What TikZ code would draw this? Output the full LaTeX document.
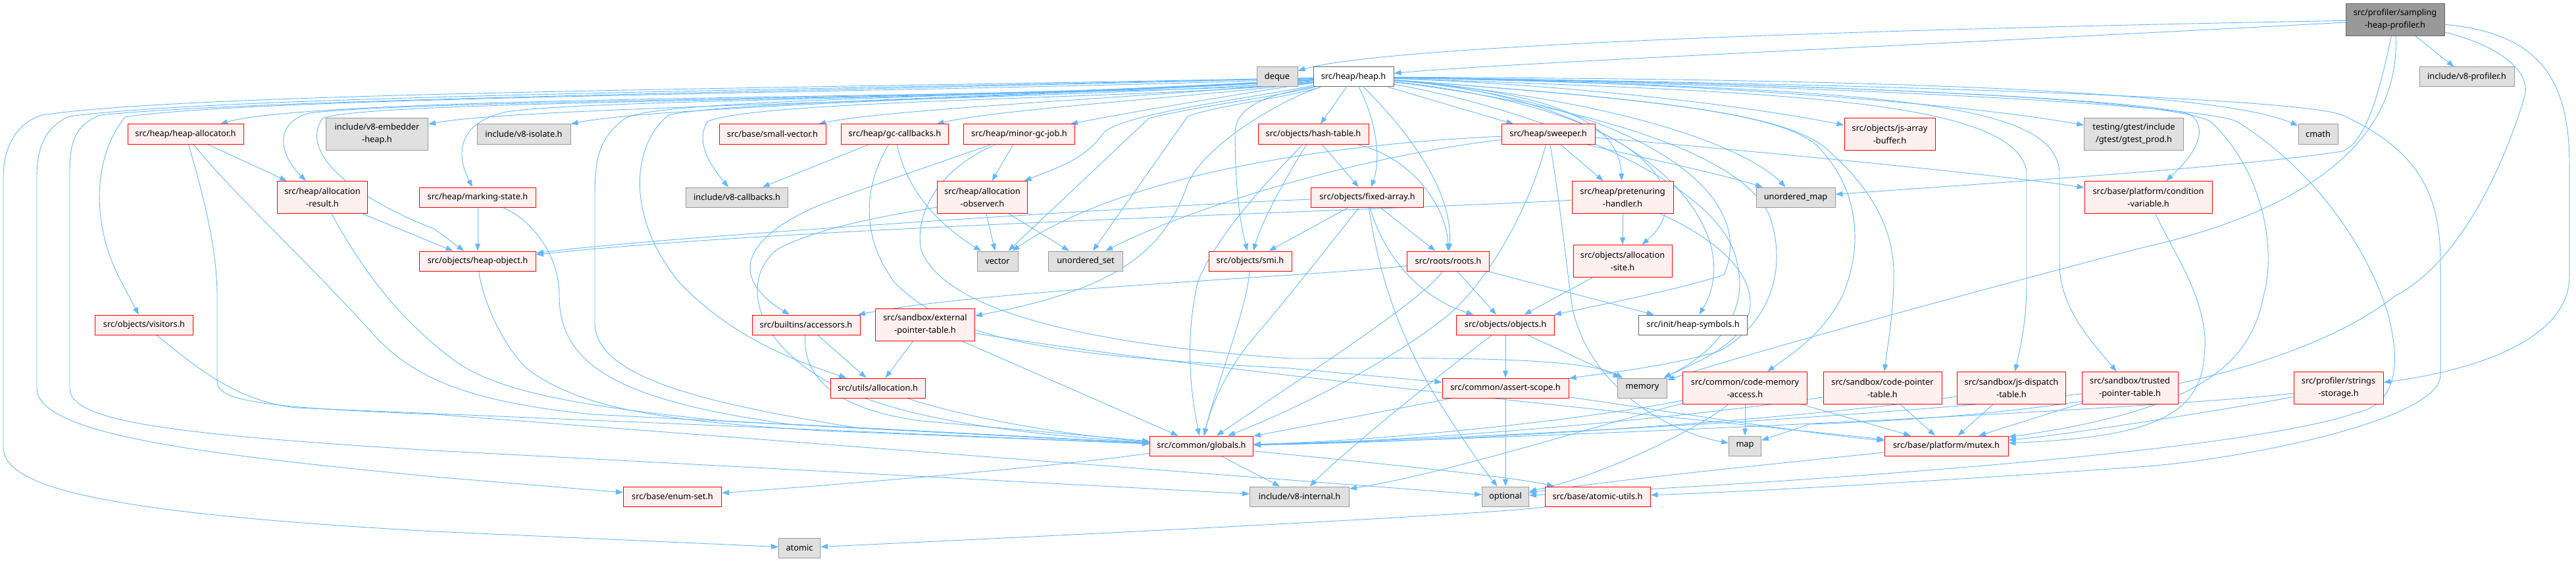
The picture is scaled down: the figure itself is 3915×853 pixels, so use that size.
\documentclass[tikz,border=0pt]{standalone}
\usepackage{fontspec}
\setmainfont{Noto Sans}
\usetikzlibrary{arrows.meta,backgrounds}
\definecolor{RB}{HTML}{FF0000}
\definecolor{RF}{HTML}{FFF0F0}
\definecolor{GB}{HTML}{999999}
\definecolor{GF}{HTML}{E0E0E0}
\definecolor{WB}{HTML}{666666}
\definecolor{TF}{HTML}{999999}
\definecolor{EC}{HTML}{63B8FF}
\newcommand\dxfont{\fontsize{12.8pt}{19pt}\selectfont}
\begin{document}
\begin{tikzpicture}[x=1pt,y=-1pt,
  nb/.style={inner sep=0pt, font=\dxfont, align=center, line width=1pt},
  rbox/.style={nb, draw=RB, fill=RF},
  gbox/.style={nb, draw=GB, fill=GF},
  wbox/.style={nb, draw=WB, fill=white},
  topbox/.style={nb, draw=WB, fill=TF},
  e/.style={draw=EC, line width=0.9pt, -{Triangle[length=11pt,width=8pt]}}]
\useasboundingbox (0,0) rectangle (3915,853);
% ---------- nodes ----------
\node[topbox,minimum width=150pt,minimum height=49pt] (S) at (3640,30) {src/profiler/sampling\\-heap-profiler.h};
\node[gbox,minimum width=62pt,minimum height=30pt] (deque) at (1941,117) {deque};
\node[wbox,minimum width=122pt,minimum height=30pt] (heap) at (2057,117) {src/heap/heap.h};
\node[gbox,minimum width=144pt,minimum height=30pt] (v8prof) at (3749,117) {include/v8-profiler.h};
% row 204
\node[rbox,minimum width=176pt,minimum height=30pt] (halloc) at (282,204) {src/heap/heap-allocator.h};
\node[gbox,minimum width=155pt,minimum height=49pt] (embed) at (573,204) {include/v8-embedder\\-heap.h};
\node[gbox,minimum width=142pt,minimum height=30pt] (isolate) at (796,204) {include/v8-isolate.h};
\node[rbox,minimum width=162pt,minimum height=30pt] (smallvec) at (1174,204) {src/base/small-vector.h};
\node[rbox,minimum width=163pt,minimum height=30pt] (gccb) at (1360,204) {src/heap/gc-callbacks.h};
\node[rbox,minimum width=169pt,minimum height=30pt] (minorgc) at (1549,204) {src/heap/minor-gc-job.h};
\node[rbox,minimum width=168pt,minimum height=30pt] (hasht) at (1996,204) {src/objects/hash-table.h};
\node[rbox,minimum width=142pt,minimum height=30pt] (sweeper) at (2353,204) {src/heap/sweeper.h};
\node[rbox,minimum width=138pt,minimum height=49pt] (jsab) at (2872,204) {src/objects/js-array\\-buffer.h};
\node[gbox,minimum width=151pt,minimum height=49pt] (gtest) at (3243,204) {testing/gtest/include\\/gtest/gtest\_prod.h};
\node[gbox,minimum width=60pt,minimum height=30pt] (cmath) at (3523,204) {cmath};
% row 300
\node[rbox,minimum width=137pt,minimum height=49pt] (allocres) at (490,300) {src/heap/allocation\\-result.h};
\node[rbox,minimum width=177pt,minimum height=30pt] (marking) at (726,300) {src/heap/marking-state.h};
\node[gbox,minimum width=155pt,minimum height=30pt] (v8cb) at (1120,300) {include/v8-callbacks.h};
\node[rbox,minimum width=137pt,minimum height=49pt] (allocobs) at (1493,300) {src/heap/allocation\\-observer.h};
\node[rbox,minimum width=171pt,minimum height=30pt] (fixedarr) at (2078,300) {src/objects/fixed-array.h};
\node[rbox,minimum width=154pt,minimum height=49pt] (pretenure) at (2466,300) {src/heap/pretenuring\\-handler.h};
\node[gbox,minimum width=120pt,minimum height=30pt] (umap) at (2729,300) {unordered\_map};
\node[rbox,minimum width=194pt,minimum height=49pt] (condvar) at (3265,300) {src/base/platform/condition\\-variable.h};
% row 397
\node[rbox,minimum width=177pt,minimum height=30pt] (heapobj) at (726,397) {src/objects/heap-object.h};
\node[gbox,minimum width=62pt,minimum height=30pt] (vector) at (1516,397) {vector};
\node[gbox,minimum width=113pt,minimum height=30pt] (uset) at (1650,397) {unordered\_set};
\node[rbox,minimum width=126pt,minimum height=30pt] (smi) at (1900,397) {src/objects/smi.h};
\node[rbox,minimum width=125pt,minimum height=30pt] (roots) at (2201,397) {src/roots/roots.h};
\node[rbox,minimum width=150pt,minimum height=49pt] (allocsite) at (2466,397) {src/objects/allocation\\-site.h};
% row 494
\node[rbox,minimum width=149pt,minimum height=30pt] (visitors) at (219,494) {src/objects/visitors.h};
\node[rbox,minimum width=164pt,minimum height=30pt] (accessors) at (1225,494) {src/builtins/accessors.h};
\node[rbox,minimum width=151pt,minimum height=49pt] (extptr) at (1406,494) {src/sandbox/external\\-pointer-table.h};
\node[rbox,minimum width=149pt,minimum height=30pt] (objects) at (2288,494) {src/objects/objects.h};
\node[wbox,minimum width=165pt,minimum height=30pt] (heapsym) at (2573,494) {src/init/heap-symbols.h};
% row 590
\node[rbox,minimum width=144pt,minimum height=30pt] (utilsalloc) at (1334,590) {src/utils/allocation.h};
\node[rbox,minimum width=192pt,minimum height=30pt] (assert) at (2288,590) {src/common/assert-scope.h};
\node[gbox,minimum width=75pt,minimum height=30pt] (memory) at (2496,590) {memory};
\node[rbox,minimum width=189pt,minimum height=49pt] (codemem) at (2652,590) {src/common/code-memory\\-access.h};
\node[rbox,minimum width=180pt,minimum height=49pt] (codeptr) at (2861,590) {src/sandbox/code-pointer\\-table.h};
\node[rbox,minimum width=165pt,minimum height=49pt] (jsdisp) at (3057,590) {src/sandbox/js-dispatch\\-table.h};
\node[rbox,minimum width=146pt,minimum height=49pt] (trusted) at (3237,590) {src/sandbox/trusted\\-pointer-table.h};
\node[rbox,minimum width=136pt,minimum height=49pt] (strings) at (3554,590) {src/profiler/strings\\-storage.h};
% row 678
\node[rbox,minimum width=157pt,minimum height=30pt] (globals) at (1826,678) {src/common/globals.h};
\node[gbox,minimum width=49pt,minimum height=30pt] (map) at (2652,678) {map};
\node[rbox,minimum width=188pt,minimum height=30pt] (mutex) at (2958,678) {src/base/platform/mutex.h};
% row 755
\node[rbox,minimum width=149pt,minimum height=30pt] (enumset) at (1022,755) {src/base/enum-set.h};
\node[gbox,minimum width=151pt,minimum height=30pt] (v8int) at (1975,755) {include/v8-internal.h};
\node[gbox,minimum width=71pt,minimum height=30pt] (optional) at (2288,755) {optional};
\node[rbox,minimum width=160pt,minimum height=30pt] (atomicu) at (2428,755) {src/base/atomic-utils.h};
% row 833
\node[gbox,minimum width=63pt,minimum height=30pt] (atomic) at (1215,833) {atomic};
% ---------- edges ----------
\begin{pgfonlayer}{background}
% sampling-heap-profiler
\draw[e] (S) .. controls (2800,45) and (2100,70) .. (deque);
\draw[e] (S) .. controls (2900,70) and (2300,95) .. (heap);
\draw[e] (S) -- (v8prof);
\draw[e] (S) .. controls (3620,120) and (3600,215) .. (3560,230) .. controls (3400,255) and (3000,280) .. (umap);
\draw[e] (S) .. controls (3645,150) and (3600,300) .. (3250,378) .. controls (2900,470) and (2650,540) .. (memory);
\draw[e] (S) .. controls (3800,70) and (3850,110) .. (3836,150) .. controls (3780,330) and (3700,420) .. (3640,450) .. controls (3500,560) and (3200,630) .. (2750,645) -- (map);
\draw[e] (S) .. controls (3850,50) and (3905,110) .. (3905,250) -- (3905,420) .. controls (3905,520) and (3750,565) .. (strings);
% heap.h
\draw[e] (heap) .. controls (1800,150) and (500,140) .. (halloc);
\draw[e] (heap) .. controls (1700,150) and (800,160) .. (embed);
\draw[e] (heap) .. controls (1750,140) and (1000,160) .. (isolate);
\draw[e] (heap) .. controls (1800,145) and (1350,165) .. (smallvec);
\draw[e] (heap) .. controls (1850,145) and (1520,165) .. (gccb);
\draw[e] (heap) .. controls (1900,140) and (1720,170) .. (minorgc);
\draw[e] (heap) -- (hasht);
\draw[e] (heap) -- (sweeper);
\draw[e] (heap) .. controls (1600,150) and (650,150) .. (470,172) .. controls (420,185) and (420,230) .. (allocres);
\draw[e] (heap) .. controls (1600,150) and (900,150) .. (770,170) .. controls (700,185) and (690,230) .. (marking);
\draw[e] (heap) .. controls (1500,155) and (560,150) .. (490,180) .. controls (450,240) and (560,310) .. (660,348) -- (heapobj);
\draw[e] (heap) .. controls (1800,150) and (1150,150) .. (1075,185) .. controls (1060,210) and (1070,240) .. (v8cb);
\draw[e] (heap) .. controls (1500,140) and (400,145) .. (190,178) .. controls (140,240) and (140,340) .. (180,420) -- (visitors);
\draw[e] (heap) .. controls (1200,135) and (300,140) .. (63,175) .. controls (20,190) and (5,230) .. (5,270) -- (5,680) .. controls (5,740) and (150,780) .. (660,808) -- (atomic);
\draw[e] (heap) .. controls (1200,138) and (350,145) .. (105,177) .. controls (65,195) and (56,230) .. (56,270) -- (56,590) .. controls (56,660) and (300,690) .. (660,725) -- (enumset);
\draw[e] (heap) .. controls (1200,140) and (400,150) .. (152,175) .. controls (115,190) and (106,215) .. (106,260) -- (106,590) .. controls (106,640) and (250,660) .. (660,685) -- (v8int);
\draw[e] (heap) .. controls (1500,150) and (1000,150) .. (950,180) .. controls (910,210) and (904,240) .. (904,300) -- (904,490) .. controls (904,570) and (1050,610) .. (1300,650) -- (globals);
\draw[e] (heap) .. controls (1500,150) and (1100,155) .. (1016,175) .. controls (960,220) and (950,330) .. (1033,430) .. controls (1100,500) and (1180,540) .. (utilsalloc);
\draw[e] (heap) .. controls (1950,145) and (1800,165) .. (1746,180) -- (vector);
\draw[e] (heap) .. controls (1950,150) and (1850,160) .. (1805,177) -- (uset);
\draw[e] (heap) .. controls (1960,140) and (1880,150) .. (1877,200) .. controls (1877,290) and (1885,340) .. (smi);
\draw[e] (heap) .. controls (1900,150) and (1720,170) .. (1679,200) .. controls (1650,240) and (1620,250) .. (allocobs);
\draw[e] (heap) .. controls (1950,150) and (1830,220) .. (1805,280) .. controls (1770,380) and (1700,440) .. (extptr);
\draw[e] (heap) .. controls (2090,180) and (2100,240) .. (fixedarr);
\draw[e] (heap) .. controls (2120,180) and (2210,280) .. (roots);
\draw[e] (heap) .. controls (2450,150) and (2680,280) .. (2620,418) .. controls (2550,440) and (2450,460) .. (objects);
\draw[e] (heap) .. controls (2350,140) and (2460,180) .. (pretenure);
\draw[e] (heap) .. controls (2520,170) and (2580,300) .. (allocsite);
\draw[e] (heap) .. controls (2500,150) and (2660,350) .. (heapsym);
\draw[e] (heap) .. controls (2450,150) and (2650,220) .. (umap);
\draw[e] (heap) .. controls (2400,130) and (2650,160) .. (jsab);
\draw[e] (heap) .. controls (2600,125) and (3000,160) .. (gtest);
\draw[e] (heap) .. controls (2700,120) and (3350,130) .. (cmath);
\draw[e] (heap) .. controls (2700,125) and (3280,150) .. (3330,175) .. controls (3360,200) and (3330,240) .. (condvar);
\draw[e] (heap) .. controls (2800,128) and (3300,150) .. (3360,185) .. controls (3440,260) and (3460,380) .. (3440,450) .. controls (3420,560) and (3330,625) .. (mutex);
\draw[e] (heap) .. controls (2800,130) and (3350,160) .. (3400,185) .. controls (3520,260) and (3600,380) .. (3630,480) .. controls (3650,560) and (3640,615) .. (3580,628) .. controls (3400,690) and (2700,735) .. (optional);
\draw[e] (heap) .. controls (2900,128) and (3500,150) .. (3560,175) .. controls (3680,230) and (3709,300) .. (3709,400) -- (3709,570) .. controls (3709,640) and (3400,700) .. (3250,710) .. controls (2900,735) and (2600,750) .. (atomicu);
\draw[e] (heap) .. controls (2400,160) and (2650,230) .. (2690,330) .. controls (2720,420) and (2680,500) .. (2610,535) .. controls (2520,560) and (2420,570) .. (assert);
\draw[e] (heap) .. controls (2350,170) and (2620,280) .. (2640,400) .. controls (2660,480) and (2600,540) .. (memory);
\draw[e] (heap) .. controls (2500,150) and (2700,170) .. (2760,220) .. controls (2830,290) and (2830,380) .. (2800,450) .. controls (2770,510) and (2720,540) .. (codemem);
\draw[e] (heap) .. controls (2500,150) and (2720,170) .. (2780,230) .. controls (2870,310) and (2880,380) .. (2878,430) .. controls (2876,490) and (2868,530) .. (codeptr);
\draw[e] (heap) .. controls (2700,140) and (3060,150) .. (3080,260) -- (3080,430) .. controls (3080,490) and (3070,530) .. (jsdisp);
\draw[e] (heap) .. controls (2900,135) and (3120,160) .. (3130,260) -- (3130,400) .. controls (3130,470) and (3180,520) .. (trusted);
% second level
\draw[e] (halloc) -- (allocres);
\draw[e] (halloc) .. controls (350,290) and (450,380) .. (560,500) .. controls (620,570) and (700,610) .. (900,630) -- (globals);
\draw[e] (halloc) .. controls (310,300) and (330,380) .. (330,450) -- (330,580) .. controls (330,610) and (400,620) .. (660,630) -- (optional);
\draw[e] (allocres) -- (heapobj);
\draw[e] (allocres) .. controls (540,390) and (590,470) .. (680,540) .. controls (740,590) and (850,615) .. (1100,640) -- (globals);
\draw[e] (marking) -- (heapobj);
\draw[e] (marking) .. controls (800,330) and (850,380) .. (850,450) .. controls (850,560) and (950,610) .. (1200,645) -- (globals);
\draw[e] (heapobj) .. controls (732,450) and (760,520) .. (800,560) .. controls (880,620) and (1000,640) .. (1250,655) -- (globals);
\draw[e] (visitors) .. controls (300,560) and (360,610) .. (450,620) -- (globals);
\draw[e] (gccb) -- (v8cb);
\draw[e] (gccb) .. controls (1380,300) and (1440,350) .. (vector);
\draw[e] (gccb) .. controls (1320,270) and (1300,350) .. (1360,430) .. controls (1450,520) and (1600,540) .. (1960,560) -- (assert);
\draw[e] (minorgc) -- (allocobs);
\draw[e] (minorgc) .. controls (1450,240) and (1330,280) .. (1250,310) .. controls (1130,360) and (1105,420) .. (accessors);
\draw[e] (minorgc) .. controls (1420,260) and (1390,330) .. (1400,380) .. controls (1430,460) and (1600,520) .. (1960,545) .. controls (2150,545) and (2400,540) .. (memory);
\draw[e] (allocobs) -- (vector);
\draw[e] (allocobs) -- (uset);
\draw[e] (allocobs) .. controls (1400,320) and (1250,340) .. (1180,380) .. controls (1120,430) and (1150,540) .. (1300,600) .. controls (1400,640) and (1550,660) .. (globals);
\draw[e] (hasht) -- (fixedarr);
\draw[e] (hasht) .. controls (2150,240) and (2200,320) .. (roots);
\draw[e] (hasht) .. controls (1960,260) and (1920,330) .. (smi);
\draw[e] (hasht) .. controls (1960,240) and (1850,350) .. (1820,430) .. controls (1800,520) and (1810,600) .. (globals);
\draw[e] (fixedarr) -- (smi);
\draw[e] (fixedarr) -- (roots);
\draw[e] (fixedarr) .. controls (2100,380) and (2150,450) .. (objects);
\draw[e] (fixedarr) .. controls (1800,310) and (1000,360) .. (heapobj);
\draw[e] (fixedarr) .. controls (2030,360) and (1960,450) .. (1900,520) .. controls (1860,570) and (1840,620) .. (globals);
\draw[e] (fixedarr) .. controls (2090,380) and (2110,480) .. (2180,600) .. controls (2230,680) and (2260,720) .. (optional);
\draw[e] (sweeper) -- (pretenure);
\draw[e] (sweeper) .. controls (2000,220) and (1700,270) .. (vector);
\draw[e] (sweeper) .. controls (2050,240) and (1800,320) .. (uset);
\draw[e] (sweeper) .. controls (2450,230) and (2600,260) .. (umap);
\draw[e] (sweeper) .. controls (2500,215) and (3000,260) .. (condvar);
\draw[e] (sweeper) .. controls (2330,300) and (2270,420) .. (2200,480) .. controls (2100,560) and (1950,630) .. (globals);
\draw[e] (sweeper) .. controls (2370,300) and (2380,400) .. (2390,470) .. controls (2420,600) and (2550,660) .. (map);
\draw[e] (pretenure) -- (allocsite);
\draw[e] (pretenure) .. controls (2100,320) and (1200,345) .. (heapobj);
\draw[e] (pretenure) .. controls (2580,350) and (2660,400) .. (2660,460) .. controls (2660,520) and (2580,550) .. (memory);
\draw[e] (allocsite) -- (objects);
\draw[e] (roots) -- (objects);
\draw[e] (roots) .. controls (2000,420) and (1500,440) .. (accessors);
\draw[e] (roots) -- (heapsym);
\draw[e] (roots) .. controls (2170,450) and (2000,560) .. (globals);
\draw[e] (smi) .. controls (1895,470) and (1850,580) .. (globals);
\draw[e] (objects) -- (assert);
\draw[e] (objects) -- (memory);
\draw[e] (objects) .. controls (2200,560) and (2050,680) .. (v8int);
\draw[e] (accessors) -- (utilsalloc);
\draw[e] (accessors) .. controls (1220,560) and (1250,620) .. (1400,640) -- (globals);
\draw[e] (extptr) -- (utilsalloc);
\draw[e] (extptr) -- (globals);
\draw[e] (extptr) .. controls (1800,560) and (2500,630) .. (mutex);
\draw[e] (utilsalloc) .. controls (1450,630) and (1600,660) .. (globals);
\draw[e] (assert) -- (optional);
\draw[e] (assert) -- (globals);
\draw[e] (assert) .. controls (2500,620) and (2750,660) .. (mutex);
\draw[e] (codemem) -- (map);
\draw[e] (codemem) -- (mutex);
\draw[e] (codemem) .. controls (2400,640) and (2100,670) .. (globals);
\draw[e] (codemem) .. controls (2450,640) and (2200,720) .. (v8int);
\draw[e] (codemem) .. controls (2600,640) and (2450,720) .. (optional);
\draw[e] (codeptr) -- (mutex);
\draw[e] (codeptr) .. controls (2600,630) and (2200,670) .. (globals);
\draw[e] (jsdisp) -- (mutex);
\draw[e] (jsdisp) .. controls (2800,630) and (2300,670) .. (globals);
\draw[e] (trusted) -- (mutex);
\draw[e] (trusted) .. controls (2900,630) and (2300,665) .. (globals);
\draw[e] (strings) .. controls (3300,620) and (2400,665) .. (globals);
\draw[e] (strings) .. controls (3400,620) and (3150,660) .. (mutex);
\draw[e] (condvar) .. controls (3300,380) and (3360,460) .. (3350,540) .. controls (3345,640) and (3250,665) .. (mutex);
\draw[e] (mutex) .. controls (2700,705) and (2450,730) .. (optional);
\draw[e] (globals) -- (v8int);
\draw[e] (globals) .. controls (1600,710) and (1300,735) .. (enumset);
\draw[e] (globals) .. controls (2100,705) and (2300,725) .. (atomicu);
\draw[e] (atomicu) .. controls (2300,780) and (1700,810) .. (atomic);
\end{pgfonlayer}
\end{tikzpicture}
\end{document}
